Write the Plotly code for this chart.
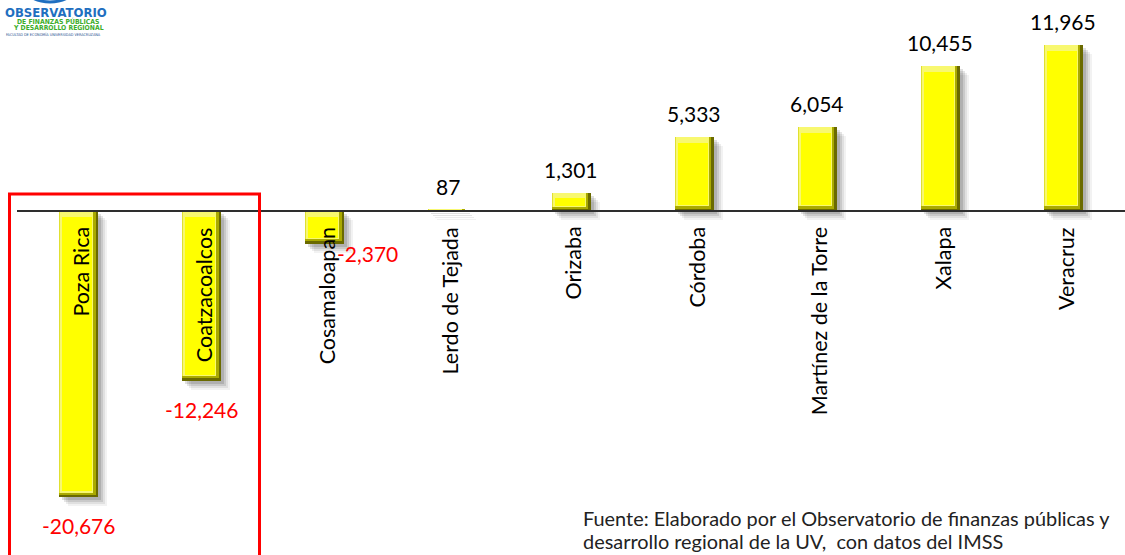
import plotly.graph_objects as go

# ---- data ----
categories = ["Poza Rica", "Coatzacoalcos", "Cosamaloapan", "Lerdo de Tejada", "Orizaba",
              "Córdoba", "Martínez de la Torre", "Xalapa", "Veracruz"]
values = [-20676, -12246, -2370, 87, 1301, 5333, 6054, 10455, 11965]
value_labels = ["-20,676", "-12,246", "-2,370", "87", "1,301", "5,333", "6,054", "10,455", "11,965"]
source_lines = ["Fuente: Elaborado por el Observatorio de finanzas públicas y",
                "desarrollo regional de la UV,  con datos del IMSS"]

# ---- geometry helpers (pixel -> data unit conversion) ----
W, H = 1125, 555
ML = 17
plot_w = W - ML
cat_px = plot_w / len(categories)
y_top, y_bot = 15235, -24837
upx = (y_top - y_bot) / H          # data units per pixel (vertical)
xpx = 1.0 / cat_px                 # category units per pixel (horizontal)

n = len(categories)
bar_w = 39 * xpx
xs = list(range(n))
lo = [min(0, v) for v in values]
hi = [max(0, v) for v in values]
hgt = [h - l for h, l in zip(hi, lo)]

fig = go.Figure()

def add_bar(x, base, height, width, offset, color):
    fig.add_trace(go.Bar(x=x, y=height, base=base, width=width, offset=offset,
                         marker=dict(color=color, line=dict(width=0)),
                         hoverinfo="skip", showlegend=False))

# soft shadow layers
for k, a in [(9, 0.05), (7, 0.07), (5, 0.10), (3, 0.12)]:
    add_bar(xs, [l - k * upx for l in lo], hgt, [bar_w] * n,
            [-bar_w / 2 + k * xpx] * n, f"rgba(0,0,0,{a})")

bev = [min(6 * upx, h * 0.3) for h in hgt]
# outer dark bevel (right/bottom)
add_bar(xs, lo, hgt, [bar_w] * n, [-bar_w / 2] * n, "#6A6A00")
# mid bevel
add_bar(xs, [l + b * 0.4 for l, b in zip(lo, bev)], [h - b * 0.4 for h, b in zip(hgt, bev)],
        [bar_w - 2.5 * xpx] * n, [-bar_w / 2] * n, "#AAAA00")
# left / top light bevel
add_bar(xs, [l + b * 0.8 for l, b in zip(lo, bev)], [h - b * 0.8 for h, b in zip(hgt, bev)],
        [bar_w - 5 * xpx] * n, [-bar_w / 2] * n, "#E0E030")
add_bar(xs, [l + b * 0.8 for l, b in zip(lo, bev)], [h - b * 0.8 for h, b in zip(hgt, bev)],
        [bar_w - 6 * xpx] * n, [-bar_w / 2 + 1 * xpx] * n, "#F8F870")
# main face
add_bar(xs, [l + b for l, b in zip(lo, bev)], [max(h - 2 * b, 0) for h, b in zip(hgt, bev)],
        [bar_w - 9 * xpx] * n, [-bar_w / 2 + 3 * xpx] * n, "#FFFF00")

# zero line
fig.add_shape(type="line", xref="paper", yref="y", x0=0, x1=1, y0=0, y1=0,
              line=dict(color="#2E2E2E", width=2), layer="above")

FONT = "Lato, Calibri, Carlito, sans-serif"

# category labels (rotated, inside/below bars)
for i, c in enumerate(categories):
    fig.add_annotation(x=i, y=0, text=c, textangle=-90, showarrow=False,
                       xanchor="center", yanchor="top", yshift=-14, xshift=2,
                       font=dict(family=FONT, size=21.5, color="black"))

# value labels
for i, (v, t) in enumerate(zip(values, value_labels)):
    if v >= 0:
        fig.add_annotation(x=i, y=v, text=t, showarrow=False, yanchor="bottom", yshift=9,
                           font=dict(family=FONT, size=21, color="black"))
    elif v > -5000:
        fig.add_annotation(x=i, y=v, text=t, showarrow=False, xanchor="center", yanchor="middle",
                           xshift=43, yshift=-10,
                           font=dict(family=FONT, size=21, color="red"))
    else:
        fig.add_annotation(x=i, y=v, text=t, showarrow=False, yanchor="top", yshift=-14,
                           font=dict(family=FONT, size=21, color="red"))

# red highlight box
def px_x(p):
    return (p - ML) / plot_w
def px_y(p):
    return 1 - p / H
fig.add_shape(type="rect", xref="paper", yref="paper",
              x0=px_x(9.5), x1=px_x(259.5), y0=px_y(560), y1=px_y(194),
              line=dict(color="red", width=3), fillcolor="rgba(0,0,0,0)", layer="above")

# source note
for k, line in enumerate(source_lines):
    fig.add_annotation(xref="paper", yref="paper", x=px_x(581), y=px_y(518 + 23 * k),
                       text=line, showarrow=False, xanchor="left", yanchor="middle",
                       font=dict(family=FONT, size=19.9, color="#222222"))

# logo
fig.add_shape(type="circle", xref="paper", yref="paper",
              x0=px_x(24), x1=px_x(76), y0=px_y(2), y1=px_y(-30),
              line=dict(color="#1F6FC0", width=3))
fig.add_annotation(xref="paper", yref="paper", x=px_x(3), y=px_y(13), text="<b>OBSERVATORIO</b>",
                   showarrow=False, xanchor="left", yanchor="middle",
                   font=dict(family="DejaVu Sans Condensed, sans-serif", size=13, color="#1F6FC0"))
fig.add_annotation(xref="paper", yref="paper", x=px_x(58), y=px_y(21.5), text="<b>DE FINANZAS PÚBLICAS</b>",
                   showarrow=False, xanchor="center", yanchor="middle",
                   font=dict(family="DejaVu Sans Condensed, sans-serif", size=6.8, color="#3DAE2B"))
fig.add_annotation(xref="paper", yref="paper", x=px_x(58), y=px_y(28), text="<b>Y DESARROLLO REGIONAL</b>",
                   showarrow=False, xanchor="center", yanchor="middle",
                   font=dict(family="DejaVu Sans Condensed, sans-serif", size=6.8, color="#3DAE2B"))
fig.add_annotation(xref="paper", yref="paper", x=px_x(4), y=px_y(34.5), text="FACULTAD DE ECONOMÍA UNIVERSIDAD VERACRUZANA",
                   showarrow=False, xanchor="left", yanchor="middle",
                   font=dict(family="DejaVu Sans Condensed, sans-serif", size=3.8, color="#1F4F90"))

fig.update_layout(
    width=W, height=H, barmode="overlay", bargap=0,
    margin=dict(l=ML, r=0, t=0, b=0, pad=0),
    paper_bgcolor="white", plot_bgcolor="white",
    xaxis=dict(range=[-0.5, n - 0.5], visible=False, fixedrange=True),
    yaxis=dict(range=[y_bot, y_top], visible=False, fixedrange=True),
    showlegend=False,
)

fig.write_html("out.html", config={"displayModeBar": False},
               post_script="document.body.style.margin='0px';document.body.style.overflow='hidden';")
